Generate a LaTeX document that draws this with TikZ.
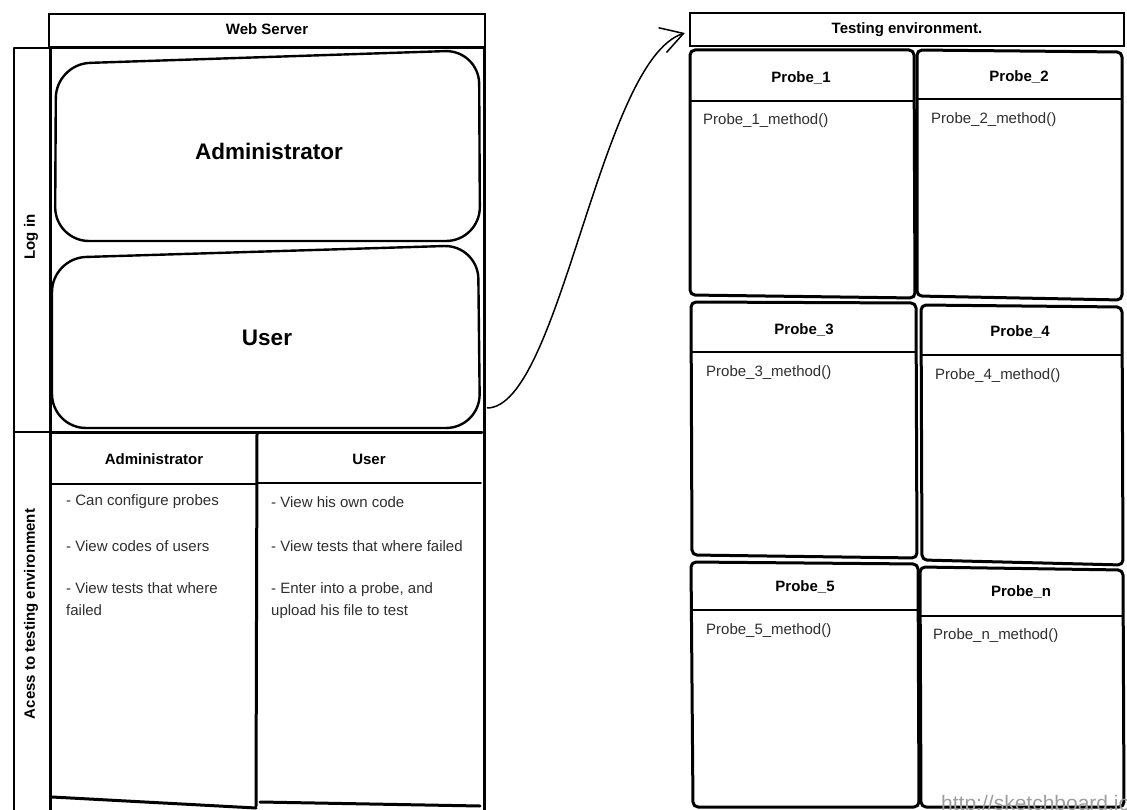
\documentclass[tikz,border=0pt]{standalone}
\usepackage{fontspec}
\setmainfont{Liberation Sans}
\usetikzlibrary{arrows.meta}
\begin{document}
\begin{tikzpicture}[x=1pt,y=-1pt,
  heavy/.style={line width=3pt, line join=round, line cap=round},
  medium/.style={line width=2.4pt, line join=round, line cap=round},
  divider/.style={line width=1.7pt, line cap=round},
  roundbox/.style={line width=2.4pt, line join=round, rounded corners=34pt},
  probebox/.style={line width=3pt, line join=round, rounded corners=5pt},
  bigtxt/.style={font=\fontsize{22.5}{27}\selectfont\bfseries, inner sep=0pt},
  head/.style={font=\fontsize{15}{18}\selectfont\bfseries, inner sep=0pt},
  body/.style={font=\fontsize{15}{22}\selectfont, inner sep=0pt, anchor=west, text=black!82},
  titlebar/.style={draw, line width=2.2pt, inner sep=0pt, text height=11pt, text depth=2pt,
    font=\fontsize{15}{18}\selectfont\bfseries}
]
\useasboundingbox (0,0) rectangle (1127,810);
\clip (0,0) rectangle (1127,810);

% ---------- Web server pool ----------
\node[titlebar, minimum width=436pt, minimum height=33pt] (ws) at (267,30.5) {Web Server};
\draw[medium] (14,812) -- (14,48) -- (484,48);
\draw[medium] (14,432) -- (50,432);
\draw[heavy] (50,48) -- (50,812);
\draw[heavy] (484,48) -- (484,812);
\node[head, rotate=90] (login) at (31,237) {Log in};
\node[head, rotate=90] (access) at (31,614) {Acess to testing environment};

% log-in roles
\draw[roundbox] (267,241) -- (55,241) -- (56,64) -- (479,50) -- (480,241) -- cycle;
\node[bigtxt] (admbig) at (269,151) {Administrator};
\draw[roundbox] (265,428) -- (52,428) -- (52,258) -- (478,245) -- (480,428) -- cycle;
\node[bigtxt] (usrbig) at (267,338) {User};
\coordinate (usrout) at (487,408);

% access table
\draw[heavy] (50,432) -- (482,432);
\draw[heavy] (257,434) -- (256,806);
\draw[heavy] (52,797) -- (256,808);
\draw[heavy] (260,802) -- (480,806);
\draw[divider] (52,484) -- (257,484);
\draw[divider] (258,483) -- (481,483);
\node[head] (admhead) at (154,459) {Administrator};
\node[head] (usrhead) at (369,459) {User};
\node[body] (a1) at (66,502) {- Can configure probes};
\node[body] (a2) at (66,546) {- View codes of users};
\node[body, align=left, anchor=north west] (a3) at (66,582) {- View tests that where\\failed};
\node[body] (u1) at (271,502) {- View his own code};
\node[body] (u2) at (271,546) {- View tests that where failed};
\node[body, align=left, anchor=north west] (u3) at (271,582) {- Enter into a probe, and\\upload his file to test};

% ---------- Testing environment ----------
\node[titlebar, minimum width=434pt, minimum height=33pt] (env) at (907,29.5) {Testing environment.};

\draw[probebox] (690,50) -- (914,50) -- (915,298) -- (690,295) -- cycle;
\draw[divider] (690,101) -- (914,101);
\node[head] (p1) at (801,78) {Probe\_1};
\node[body] (m1) at (703,121) {Probe\_1\_method()};

\draw[probebox] (917,50) -- (1122,52) -- (1122,300) -- (917,296) -- cycle;
\draw[divider] (917,99) -- (1122,99);
\node[head] (p2) at (1019,77) {Probe\_2};
\node[body] (m2) at (931,120) {Probe\_2\_method()};

\draw[probebox] (691,302) -- (916,303) -- (917,558) -- (692,555) -- cycle;
\draw[divider] (692,352) -- (916,352);
\node[head] (p3) at (804,330) {Probe\_3};
\node[body] (m3) at (706,373) {Probe\_3\_method()};

\draw[probebox] (921,305) -- (1122,307) -- (1123,565) -- (922,560) -- cycle;
\draw[divider] (922,355) -- (1122,355);
\node[head] (p4) at (1020,332) {Probe\_4};
\node[body] (m4) at (935,376) {Probe\_4\_method()};

\draw[probebox] (691,562) -- (918,564) -- (919,807) -- (693,807) -- cycle;
\draw[divider] (692,610) -- (918,610);
\node[head] (p5) at (805,587) {Probe\_5};
\node[body] (m5) at (706,631) {Probe\_5\_method()};

\draw[probebox] (920,567) -- (1123,570) -- (1124,807) -- (921,807) -- cycle;
\draw[divider] (921,616) -- (1123,616);
\node[head] (pn) at (1021,592) {Probe\_n};
\node[body] (mn) at (933,636) {Probe\_n\_method()};

% ---------- log-in leads into the testing environment ----------
\draw[line width=1.5pt, -{Straight Barb[length=22pt,width=26pt,line width=1.5pt]}]
  (usrout) .. controls (560,408) and (600,60) .. ([shift={(-4,3.5)}]env.west);

% site stamp
\node[anchor=base west, inner sep=0pt, text=black!38, font=\fontsize{21}{25}\selectfont] (stamp) at (941,810) {http://sketchboard.io};
\end{tikzpicture}
\end{document}
